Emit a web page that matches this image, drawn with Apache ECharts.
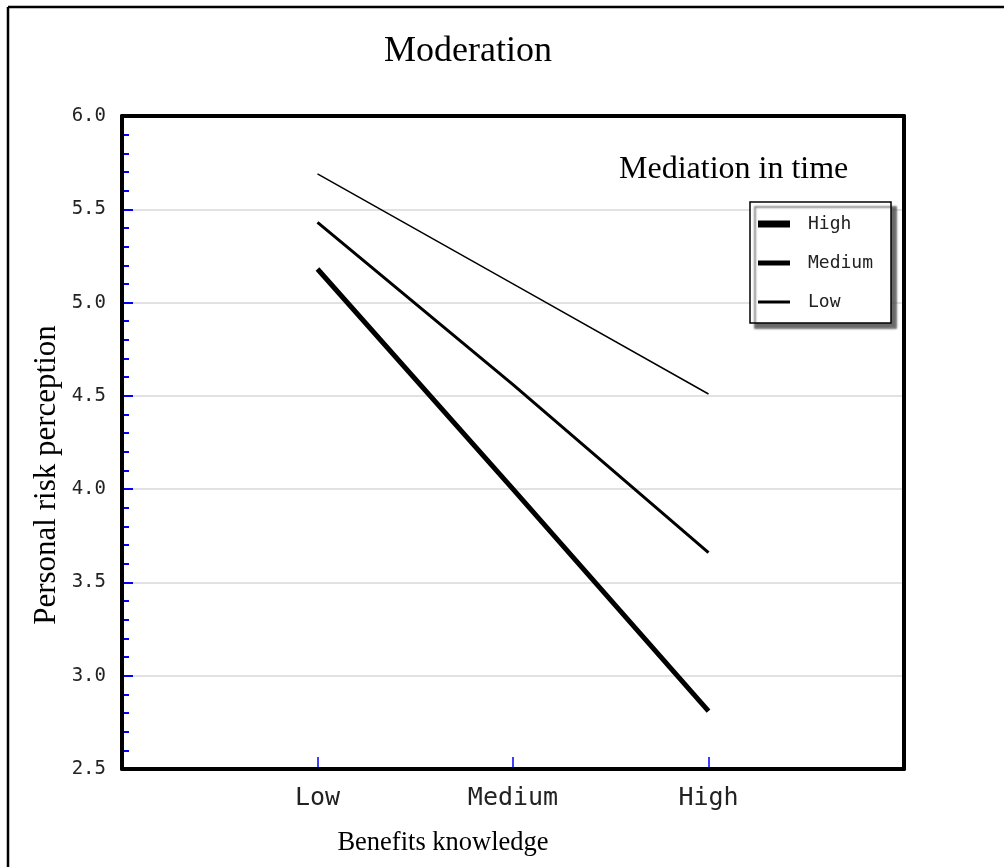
<!DOCTYPE html>
<html>
<head>
<meta charset="utf-8">
<script src="https://cdn.jsdelivr.net/npm/echarts@6/dist/echarts.min.js"></script>
<style>html,body{margin:0;padding:0;background:#fff}#c{width:1004px;height:867px}</style>
</head>
<body>
<div id="c"></div>
<script>
var categories = ['Low', 'Medium', 'High'];
var seriesNames = ['High', 'Medium', 'Low'];
var highValues = [5.18, 4.00, 2.81];
var mediumValues = [5.43, 4.56, 3.66];
var lowValues = [5.69, 5.10, 4.51];
var yTicks = [2.5, 3.0, 3.5, 4.0, 4.5, 5.0, 5.5, 6.0];

function pts(vals) { return vals.map(function (v, i) { return [i + 1, v]; }); }

var chart = echarts.init(document.getElementById('c'), null, { renderer: 'canvas' });
var mono = 'DejaVu Sans Mono';
var yMin = yTicks[0], yMax = yTicks[yTicks.length - 1];
function frameAxis(pos, isX) {
  var a = {
    type: 'value', position: pos, z: 10,
    axisLine: { show: true, onZero: false, lineStyle: { color: '#000', width: 4 } },
    axisTick: { show: false }, axisLabel: { show: false }, splitLine: { show: false }
  };
  if (isX) { a.min = 0; a.max = 4; } else { a.min = yMin; a.max = yMax; }
  return a;
}
chart.setOption({
  backgroundColor: '#fff',
  animation: false,
  grid: { left: 122, right: 100, top: 116, bottom: 98 },
  xAxis: [{
    type: 'value', min: 0, max: 4, interval: 1,
    axisLine: { show: false },
    splitLine: { show: false },
    axisTick: { show: true, inside: true, length: 12, lineStyle: { color: '#0000ff', width: 1.5 } },
    axisLabel: {
      margin: 17, fontFamily: mono, fontSize: 25, color: '#222',
      formatter: function (v) { return categories[v - 1] || ''; }
    }
  }, frameAxis('top', true), frameAxis('bottom', true)],
  yAxis: [{
    type: 'value', min: yMin, max: yMax, interval: 0.5,
    axisLine: { show: false },
    splitLine: { show: true, lineStyle: { color: '#e2e2e2', width: 2 } },
    axisTick: { show: true, inside: true, length: 11, lineStyle: { color: '#0000ff', width: 2 } },
    minorTick: { show: true, splitNumber: 5, length: 7, lineStyle: { color: '#0000ff', width: 2 } },
    axisLabel: { margin: 16, fontFamily: mono, fontSize: 19, color: '#222', formatter: function (v) { return v.toFixed(1); } }
  }, frameAxis('right', false), frameAxis('left', false)],
  legend: {
    left: 750, top: 202, orient: 'vertical',
    backgroundColor: '#fff', borderColor: '#000', borderWidth: 1.5,
    shadowColor: 'rgba(80,80,80,0.85)', shadowOffsetX: 5, shadowOffsetY: 5, shadowBlur: 2,
    padding: [13, 18, 12, 8], itemGap: 21, itemWidth: 32, itemHeight: 14,
    symbolKeepAspect: true,
    itemStyle: { borderWidth: 0, color: '#000' },
    textStyle: { fontFamily: mono, fontSize: 18, color: '#222', padding: [0, 0, 0, 13] },
    data: [
      { name: seriesNames[0], icon: 'path://M0 0H32V7H0Z' },
      { name: seriesNames[1], icon: 'path://M0 0H32V5H0Z' },
      { name: seriesNames[2], icon: 'path://M0 0H32V3H0Z' }
    ]
  },
  series: [
    { name: seriesNames[0], type: 'line', data: pts(highValues), showSymbol: false, color: '#000', lineStyle: { color: '#000', width: 5 } },
    { name: seriesNames[1], type: 'line', data: pts(mediumValues), showSymbol: false, color: '#000', lineStyle: { color: '#000', width: 3 } },
    { name: seriesNames[2], type: 'line', data: pts(lowValues), showSymbol: false, color: '#000', lineStyle: { color: '#000', width: 1.5 } }
  ],
  graphic: [
    { type: 'line', shape: { x1: 8, y1: 7, x2: 8, y2: 867 }, style: { stroke: '#000', lineWidth: 2.5 } },
    { type: 'line', shape: { x1: 8, y1: 7, x2: 1004, y2: 7 }, style: { stroke: '#000', lineWidth: 2.5 } },
    { type: 'text', x: 468, y: 52, style: { text: 'Moderation', font: '36px "Liberation Serif"', fill: '#000', textAlign: 'center', textVerticalAlign: 'middle' } },
    { type: 'text', x: 619, y: 170, style: { text: 'Mediation in time', font: '32px "Liberation Serif"', fill: '#000', textAlign: 'left', textVerticalAlign: 'middle' } },
    { type: 'text', x: 47, y: 475, rotation: Math.PI / 2, style: { text: 'Personal risk perception', font: '31px "Liberation Serif"', fill: '#000', textAlign: 'center', textVerticalAlign: 'middle' } },
    { type: 'text', x: 443, y: 843, style: { text: 'Benefits knowledge', font: '26.5px "Liberation Serif"', fill: '#000', textAlign: 'center', textVerticalAlign: 'middle' } }
  ]
});
</script>
</body>
</html>
